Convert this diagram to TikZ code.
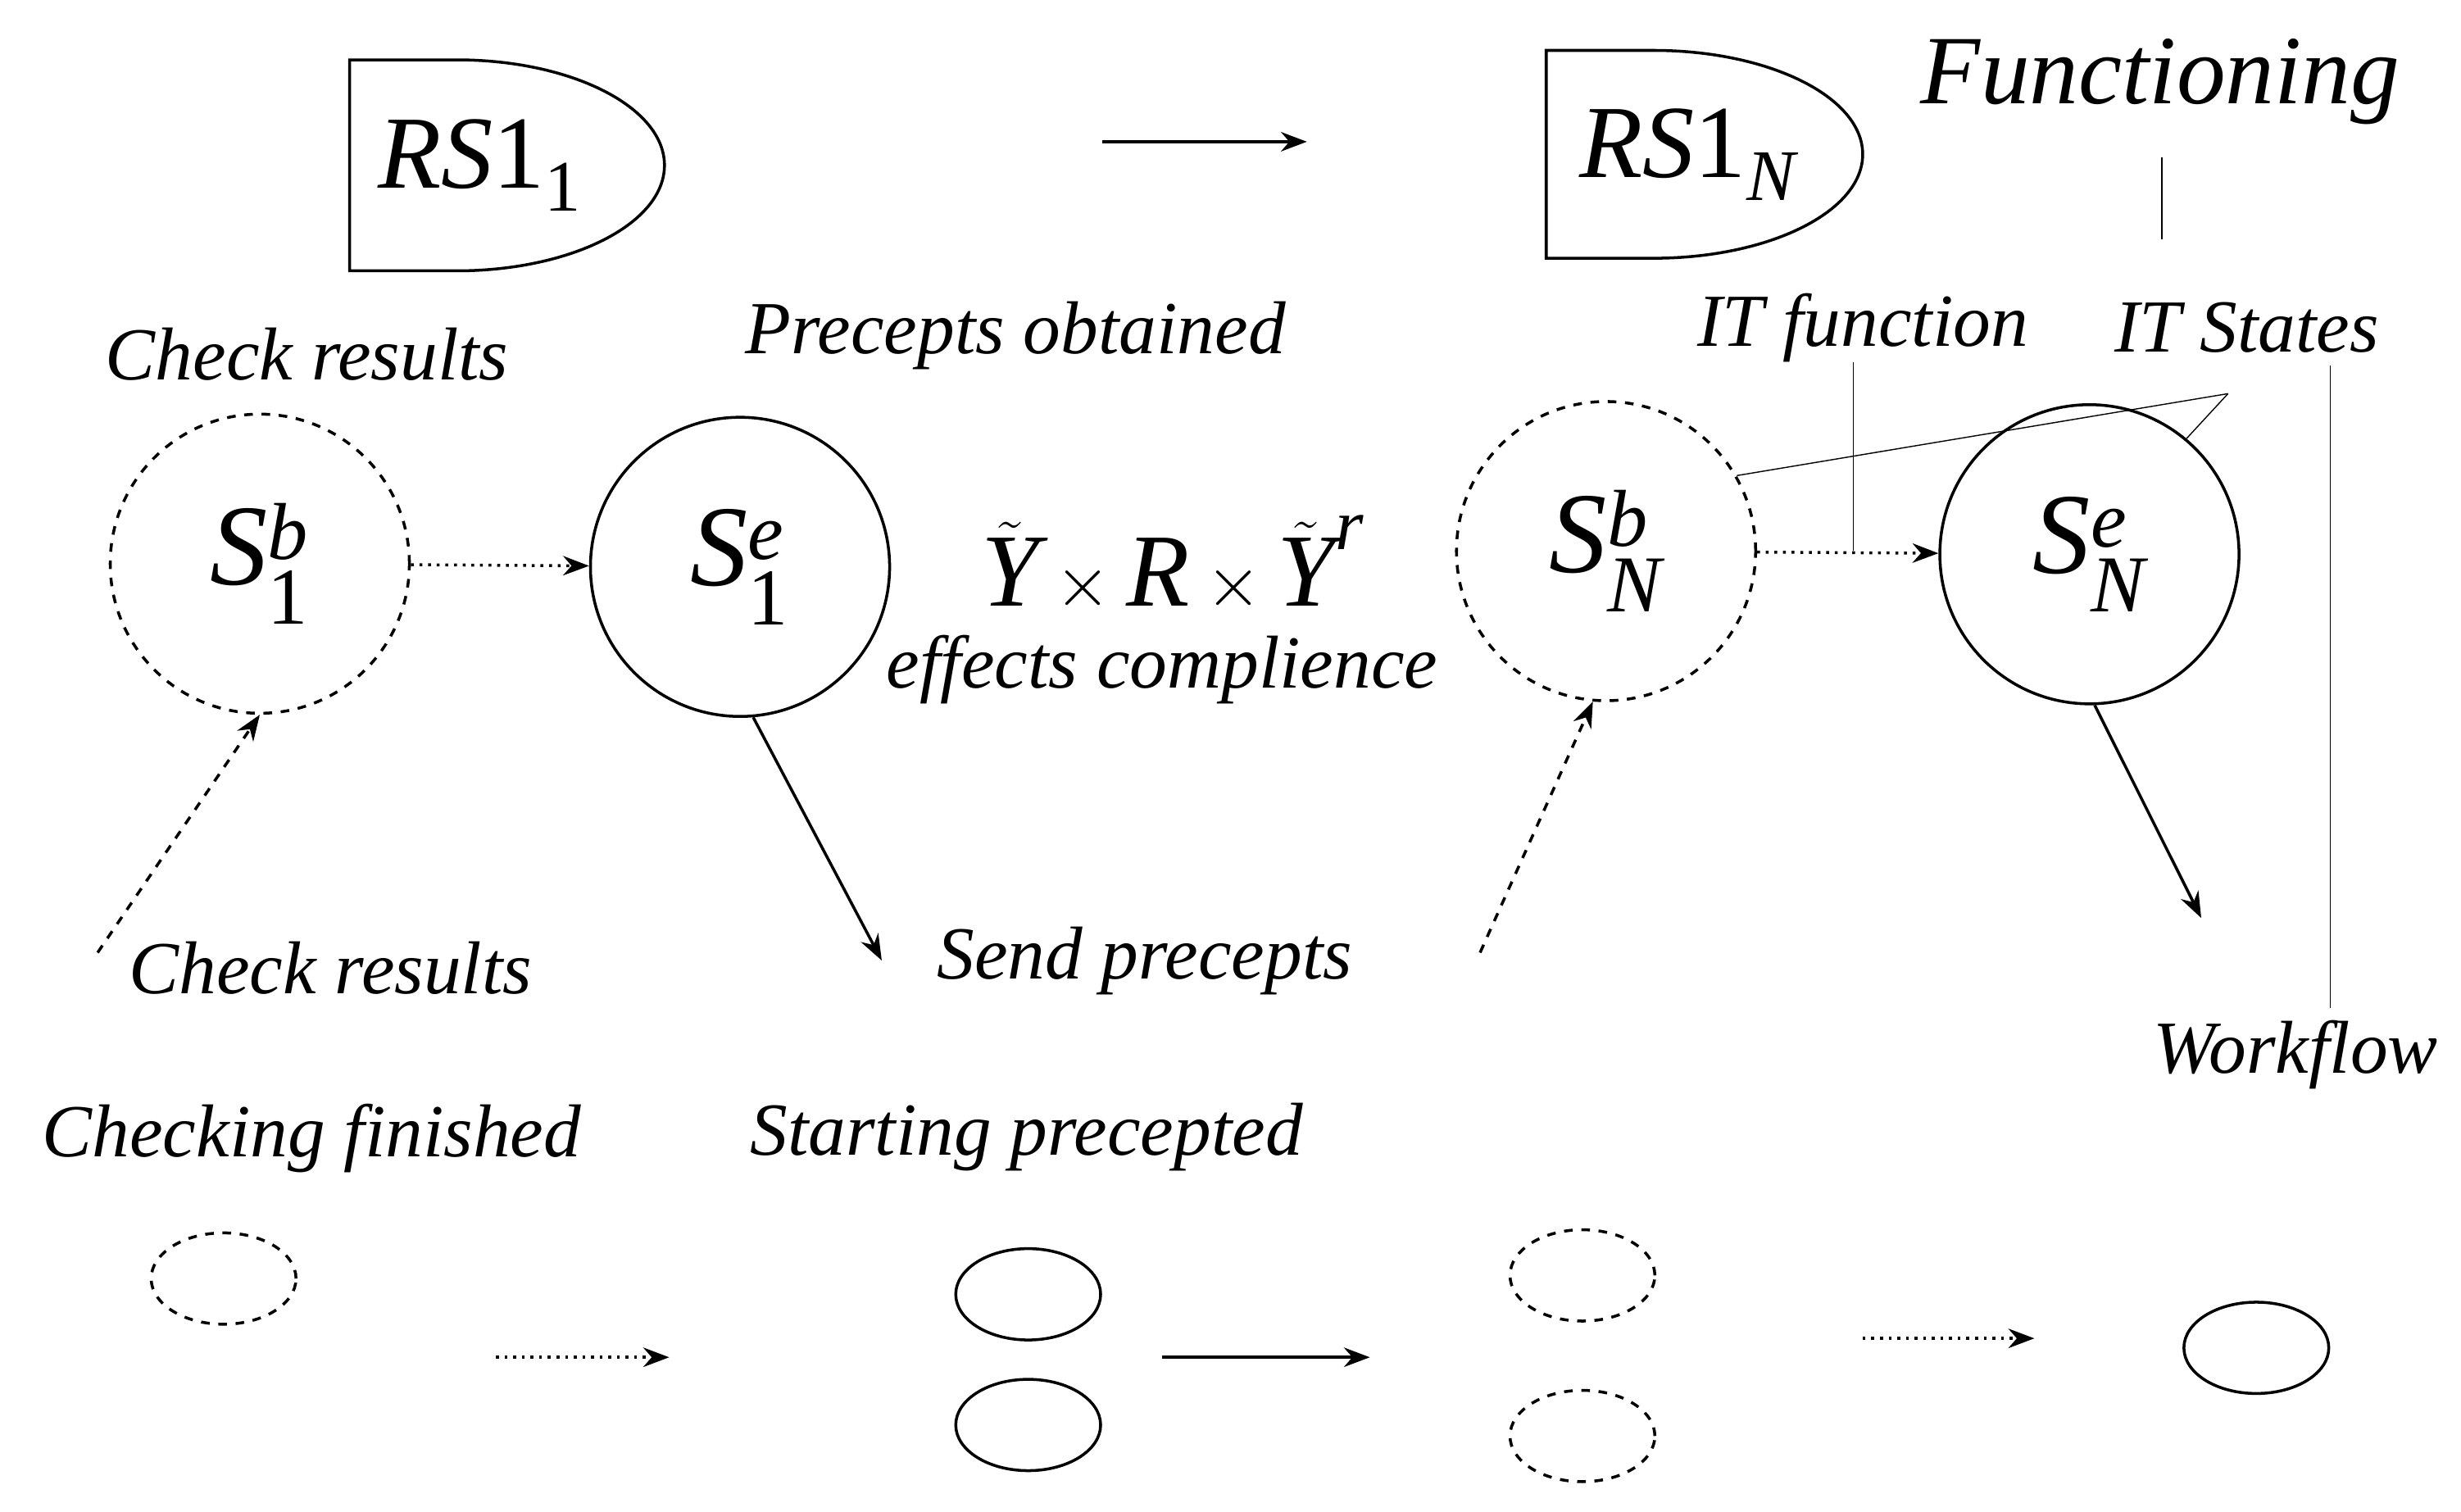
\documentclass[tikz,border=0pt]{standalone}
\usepackage{amsmath}
\usepackage{fontspec}
\setmainfont{Liberation Serif}[ItalicFont={Liberation Serif Italic}]
\usetikzlibrary{arrows.meta,shapes.geometric}
\newcommand{\ital}[1]{\textit{#1}}
\begin{document}
\begin{tikzpicture}[x=0.01921cm, y=-0.01921cm,
  lbl/.style={font=\fontsize{26}{28}\selectfont\itshape, inner sep=0pt},
  big/.style={font=\fontsize{36}{40}\selectfont, inner sep=0pt},
  st/.style={circle, draw, line width=1pt, minimum size=190*0.01921cm, inner sep=0pt, font=\fontsize{40}{44}\selectfont},
  dst/.style={st, dashed},
  el/.style={ellipse, draw, line width=1pt, minimum width=92*0.01921cm, minimum height=58*0.01921cm},
  del/.style={el, dashed},
  arrow/.style={line width=1pt, -{Stealth[length=9pt]}}]
	\useasboundingbox (0,0) rectangle (1563,960);
	% rule boxes
	\draw[line width=1pt] (290,172) -- (222,172) -- (222,38) -- (290,38) arc (-90:90:132 and 67) -- cycle;
	\node[big] (rs1) at (305,105) {\ital{RS}1$_{\mathrm{1}}$};
	\draw[line width=1pt] (1050,164) -- (982,164) -- (982,32) -- (1050,32) arc (-90:90:133 and 66) -- cycle;
	\node[big] (rsN) at (1072,98) {\ital{RS}1$_{\text{\itshape N}}$};
	\coordinate (a1) at (700,90);
	\coordinate (a2) at (830,90);
	\draw[arrow] (a1) -- (a2);
	\node[font=\fontsize{34}{38}\selectfont\itshape, inner sep=0pt] (fun) at (1372,52) {Functioning};
	\coordinate (f1) at (1373,100);
	\coordinate (f2) at (1373,152);
	\draw (f1) -- (f2);
	% labels
	\node[lbl] (chk1) at (195,225) {Check results};
	\node[lbl] (obt) at (645,213) {Precepts obtained};
	\node[lbl] (itf) at (1183,208) {IT function};
	\node[lbl] (its) at (1427,208) {IT States};
	% states
	\node[dst] (s1b) at (165,358) {\ital{S}$_{\text{1}}^{\text{\itshape b}}$};
	\node[st] (s1e) at (470,360) {\ital{S}$_{\text{1}}^{\text{\itshape e}}$};
	\node[dst] (snb) at (1020,350) {\ital{S}$_{\text{\itshape N}}^{\text{\itshape b}}$};
	\node[st] (sne) at (1327,352) {\ital{S}$_{\text{\itshape N}}^{\text{\itshape e}}$};
	\draw[arrow, dotted] (s1b) -- (s1e);
	\draw[arrow, dotted] (snb) -- (sne);
	\coordinate (j) at (1177,350);
	\draw (itf.south -| j) -- (j);
	\coordinate (t0) at (1415,250);
	\draw (t0) -- (snb.30);
	\draw (t0) -- (sne.50);
	\coordinate (w0) at (1480,232);
	\coordinate (w1) at (1480,640);
	\draw (w0) -- (w1);
	\node[big] (prod) at (745,358) {$\tilde{\text{\itshape Y}}\times\text{\itshape R}\times\tilde{\text{\itshape Y}}^{\text{\itshape r}}$};
	\node[lbl] (eff) at (738,425) {effects complience};
	% transitions
	\coordinate (d1) at (62,605);
	\draw[arrow, dashed] (d1) -- (s1b.south);
	\coordinate (d2) at (560,610);
	\draw[arrow] (s1e.-85) -- (d2);
	\coordinate (d3) at (940,605);
	\draw[arrow, dashed] (d3) -- (snb.-95);
	\coordinate (d4) at (1398,583);
	\draw[arrow] (sne.-88) -- (d4);
	\node[lbl] (chk2) at (210,615) {Check results};
	\node[lbl] (send) at (727,610) {Send precepts};
	\node[lbl] (wf) at (1458,670) {Workflow};
	\node[lbl] (fin) at (198,723) {Checking finished};
	\node[lbl] (start) at (652,722) {Starting precepted};
	% small states
	\node[del] (e1) at (142,812) {};
	\node[el] (e2) at (653,822) {};
	\node[el] (e3) at (653,905) {};
	\node[del] (e4) at (1005,810) {};
	\node[del] (e5) at (1005,912) {};
	\node[el] (e6) at (1433,856) {};
	\coordinate (b1) at (315,862);
	\coordinate (b2) at (425,862);
	\draw[arrow, dotted] (b1) -- (b2);
	\coordinate (b3) at (738,862);
	\coordinate (b4) at (870,862);
	\draw[arrow] (b3) -- (b4);
	\coordinate (b5) at (1183,850);
	\coordinate (b6) at (1292,850);
	\draw[arrow, dotted] (b5) -- (b6);
\end{tikzpicture}
\end{document}
